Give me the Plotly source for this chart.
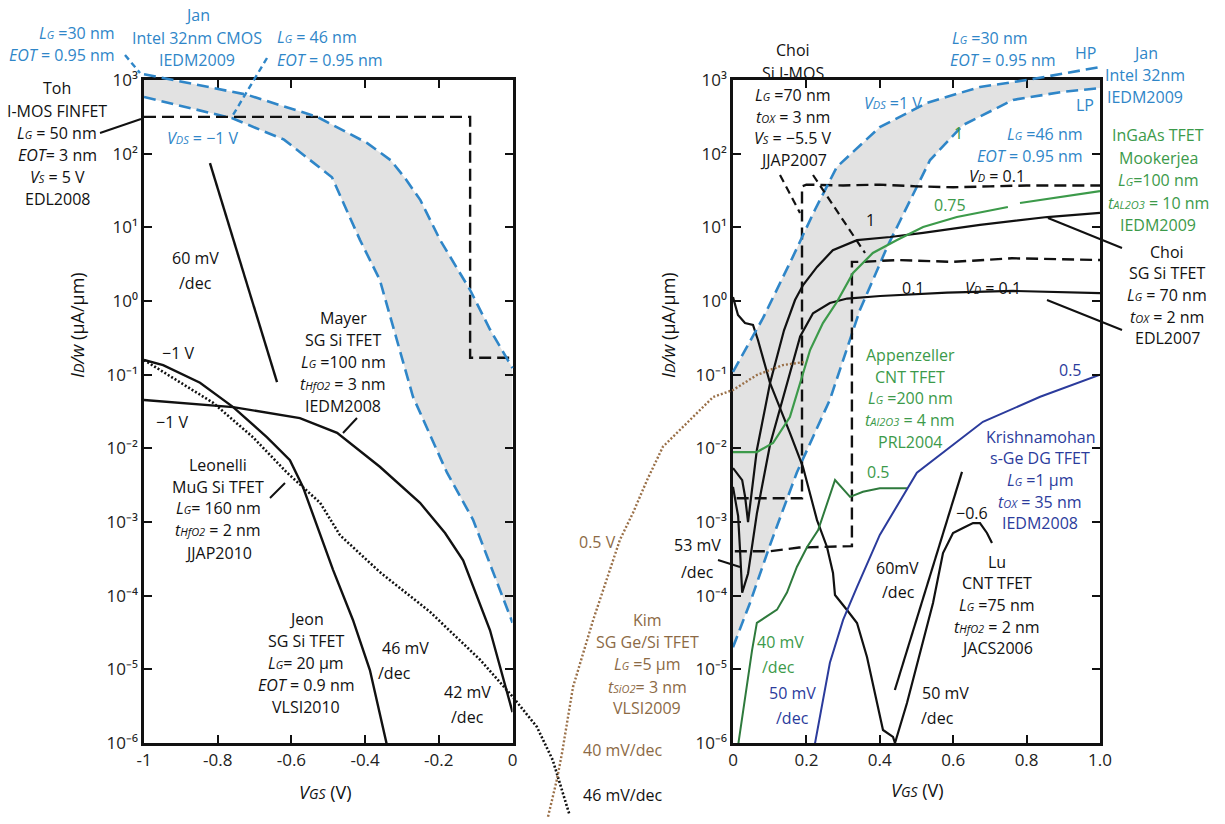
import plotly.graph_objects as go

# ---------------- data ----------------
# Left panel (p-type, VGS < 0)
jan30_v = [-1.0, -0.92, -0.72, -0.53, -0.395, -0.33, -0.292, -0.25, -0.197, -0.115, -0.061, 0.0]
jan30_i = [1200, 1000, 630, 316, 140, 81, 46.8, 23.4, 6.8, 1.41, 0.41, 0.123]
jan46_v = [-1.0, -0.85, -0.76, -0.62, -0.49, -0.414, -0.36, -0.27, -0.178, -0.107, 0.0]
jan46_i = [589, 389, 302, 155, 47.9, 6.76, 1.93, 0.050, 0.0047, 0.00107, 4.3e-5]
toh_v = [-1.0, -0.115, -0.115, 0.0]
toh_i = [316, 316, 0.17, 0.17]
ref60L_v = [-0.821, -0.639]
ref60L_i = [74.6, 0.079]
jeon_v = [-1.0, -0.948, -0.848, -0.758, -0.666, -0.604, -0.569, -0.531, -0.487, -0.433, -0.387, -0.335]
jeon_i = [0.158, 0.135, 0.0776, 0.0363, 0.0141, 0.00692, 0.00302, 0.000912, 0.000224, 4.68e-5, 9.77e-6, 7e-7]
mayer_v = [-1.0, -0.758, -0.577, -0.476, -0.36, -0.251, -0.183, -0.134, -0.061, -0.026, 0.0]
mayer_i = [0.0452, 0.0363, 0.0257, 0.0162, 0.00562, 0.00182, 0.000708, 0.000302, 3.39e-5, 7.94e-6, 2.63e-6]
leon_v = [-1.0, -0.813, -0.704, -0.612, -0.522, -0.468, -0.36, -0.224, -0.088, 0.0, 0.066, 0.109, 0.155]
leon_i = [0.158, 0.0417, 0.0141, 0.00468, 0.00182, 0.000661, 0.000209, 6.03e-5, 1.35e-5, 4.27e-6, 1.66e-6, 5.89e-7, 1.05e-7]

# Right panel (n-type, VGS > 0)
janHP_v = [0.0, 0.082, 0.163, 0.223, 0.283, 0.40, 0.529, 0.673, 0.801, 1.0]
janHP_i = [0.109, 0.589, 3.98, 17.2, 66.1, 229, 490, 804, 1000, 1500]
janLP_v = [0.0, 0.046, 0.101, 0.174, 0.264, 0.346, 0.42, 0.537, 0.627, 0.763, 0.899, 1.0]
janLP_i = [2.0e-5, 7.9e-5, 4.9e-4, 4.7e-3, 0.0457, 0.759, 5.41, 82, 245, 537, 692, 776]
imosA_v = [0.01, 0.188, 0.188, 0.2, 0.3, 0.4, 0.5, 0.6, 0.7, 0.8, 0.9, 1.0]
imosA_i = [2.1e-3, 2.1e-3, 36, 38, 37, 38, 36, 35, 36, 37, 37, 37]
imosB_v = [0.005, 0.1, 0.18, 0.324, 0.324, 0.35, 0.45, 0.6, 0.76, 1.0]
imosB_i = [4.0e-4, 4.0e-4, 4.5e-4, 4.7e-4, 3.4, 3.4, 3.6, 3.4, 3.8, 3.6]
choi1_v = [0.0, 0.014, 0.025, 0.033, 0.041, 0.065, 0.101, 0.139, 0.169, 0.191, 0.229, 0.272, 0.338, 0.428, 0.518, 0.673, 0.856, 1.0]
choi1_i = [5.4e-3, 4.3e-3, 3.7e-3, 2.2e-3, 1.0e-3, 9.5e-3, 0.077, 0.40, 1.03, 1.65, 2.9, 4.9, 6.7, 7.4, 8.4, 10.8, 13.8, 15.7]
choi01_v = [0.0, 0.014, 0.019, 0.025, 0.041, 0.065, 0.101, 0.183, 0.218, 0.264, 0.311, 0.401, 0.583, 0.763, 1.0]
choi01_i = [3.0e-3, 1.2e-3, 4.3e-4, 1.1e-4, 2.0e-4, 1.3e-3, 0.0113, 0.33, 0.68, 0.94, 1.08, 1.17, 1.3, 1.37, 1.28]
lu_v = [0.0, 0.0136, 0.0327, 0.0545, 0.068, 0.1008, 0.1553, 0.1907, 0.2289, 0.2561, 0.2725, 0.2779, 0.3106, 0.3379,
        0.3651, 0.3924, 0.4087, 0.436, 0.4414, 0.4741, 0.5095, 0.545, 0.5722, 0.5995, 0.6267, 0.654, 0.673, 0.692, 0.7057]
lu_i = [1.13, 0.646, 0.502, 0.472, 0.296, 0.0771, 0.0161, 5.58e-3, 1.06e-3, 4.58e-4, 2.03e-4, 1.02e-4, 6.38e-5, 4.26e-5,
        1.47e-5, 3.49e-6, 1.50e-6, 1.21e-6, 1.0e-6, 3.49e-6, 1.67e-5, 7.94e-5, 3.79e-4, 7.10e-4, 8.30e-4, 9.68e-4, 9.68e-4, 7.10e-4, 5.19e-4]
ref60R_v = [0.441, 0.624]
ref60R_i = [5.25e-6, 4.79e-3]
mook_v = [0.0, 0.065, 0.109, 0.155, 0.183, 0.21, 0.245, 0.283, 0.327, 0.381, 0.447, 0.518, 0.61, 0.749, None, 0.782, 0.891, 1.0]
mook_i = [8.9e-3, 8.9e-3, 0.0118, 0.0266, 0.0771, 0.216, 0.502, 0.968, 2.40, 4.49, 6.73, 10.1, 13.8, 18.9, None, 21.4, 25.8, 31.1]
appz_v = [0.012, 0.033, 0.052, 0.065, 0.12, 0.147, 0.174, 0.202, 0.232, 0.278, 0.319, 0.354, 0.40, 0.474]
appz_i = [8e-7, 4.22e-6, 1.82e-5, 4.27e-5, 6.46e-5, 1.10e-4, 2.45e-4, 4.57e-4, 7.76e-4, 3.72e-3, 2.19e-3, 2.57e-3, 2.88e-3, 2.88e-3]
krish_v = [0.22, 0.264, 0.30, 0.338, 0.40, 0.501, 0.681, 0.837, 1.0]
krish_i = [8e-7, 1.23e-5, 4.68e-5, 1.32e-4, 6.67e-4, 4.68e-3, 0.0229, 0.0501, 0.1]
kim_v = [-0.504, -0.48, -0.466, -0.436, -0.381, -0.308, -0.272, -0.234, -0.191, -0.117, -0.054, 0.0, 0.065, 0.136, 0.196]
kim_i = [1e-7, 3.16e-7, 7.24e-7, 5.75e-6, 4.68e-5, 5.75e-4, 1.35e-3, 3.72e-3, 0.0105, 0.0243, 0.0498, 0.0619, 0.0989, 0.135, 0.149]

y_tickvals = [1e-6, 1e-5, 1e-4, 1e-3, 1e-2, 1e-1, 1e0, 1e1, 1e2, 1e3]
y_ticktext = ["10⁻⁶", "10⁻⁵", "10⁻⁴", "10⁻³", "10⁻²", "10⁻¹", "10⁰", "10¹", "10²", "10³"]
xl_tickvals = [-1, -0.8, -0.6, -0.4, -0.2, 0]
xl_ticktext = ["-1", "-0.8", "-0.6", "-0.4", "-0.2", "0"]
xr_tickvals = [0, 0.2, 0.4, 0.6, 0.8, 1.0]
xr_ticktext = ["0", "0.2", "0.4", "0.6", "0.8", "1.0"]

# ---------------- geometry / styles ----------------
W, H = 1225, 824
LX0, LX1 = 144, 512.5
RX0, RX1 = 733, 1100
YT, YB = 80, 743
FONT = "Open Sans"
BLUE = "#2f86c8"
NAVY = "#2b3b9c"
GREEN = "#3c9a4a"
DGREEN = "#2e7a3c"
BROWN = "#8c6a45"
BLACK = "#111111"
GRAY = "rgb(226,226,226)"
DASH = "12px,6px"


def px(x, y):
    return x / W, 1 - y / H


fig = go.Figure()

# left panel
fig.add_trace(go.Scatter(x=jan30_v + jan46_v[::-1], y=jan30_i + jan46_i[::-1], fill="toself",
                         fillcolor=GRAY, line=dict(width=0), mode="lines", xaxis="x", yaxis="y"))
for xv, yv, col, dash, w in [
    (jan46_v, jan46_i, BLUE, DASH, 2.6),
    (toh_v, toh_i, BLACK, DASH, 2.4), (ref60L_v, ref60L_i, BLACK, "solid", 2.4),
    (jeon_v, jeon_i, BLACK, "solid", 2.4), (mayer_v, mayer_i, BLACK, "solid", 2.4)]:
    fig.add_trace(go.Scatter(x=xv, y=yv, mode="lines", line=dict(color=col, dash=dash, width=w),
                             xaxis="x", yaxis="y"))

# right panel
fig.add_trace(go.Scatter(x=janHP_v + janLP_v[::-1], y=janHP_i + janLP_i[::-1], fill="toself",
                         fillcolor=GRAY, line=dict(width=0), mode="lines", xaxis="x2", yaxis="y2"))
for xv, yv, col, dash, w in [
    (janLP_v, janLP_i, BLUE, DASH, 2.6),
    (imosA_v, imosA_i, BLACK, DASH, 2.4), (imosB_v, imosB_i, BLACK, DASH, 2.4),
    (choi1_v, choi1_i, BLACK, "solid", 2.2), (choi01_v, choi01_i, BLACK, "solid", 2.2),
    (lu_v, lu_i, BLACK, "solid", 2.2), (ref60R_v, ref60R_i, BLACK, "solid", 2.2),
    (mook_v, mook_i, GREEN, "solid", 2.2), (appz_v, appz_i, DGREEN, "solid", 2.0),
    (krish_v, krish_i, NAVY, "solid", 2.0)]:
    fig.add_trace(go.Scatter(x=xv, y=yv, mode="lines", line=dict(color=col, dash=dash, width=w),
                             xaxis="x2", yaxis="y2", connectgaps=False))

# curves that run past the frames: full-page overlay axes sharing the panels' scales
fig.add_trace(go.Scatter(x=jan30_v, y=jan30_i, mode="lines", line=dict(color=BLUE, dash=DASH, width=2.6),
                         xaxis="x3", yaxis="y3"))
fig.add_trace(go.Scatter(x=janHP_v, y=janHP_i, mode="lines", line=dict(color=BLUE, dash=DASH, width=2.6),
                         xaxis="x4", yaxis="y3"))
fig.add_trace(go.Scatter(x=leon_v, y=leon_i, mode="lines", line=dict(color=BLACK, dash="2px,2px", width=2.6),
                         xaxis="x3", yaxis="y3"))
fig.add_trace(go.Scatter(x=kim_v, y=kim_i, mode="lines", line=dict(color="#9a7048", dash="2px,2px", width=2.4),
                         xaxis="x4", yaxis="y3"))

axis_common = dict(showline=True, linewidth=2.6, linecolor=BLACK, mirror="ticks", ticks="inside",
                   ticklen=8, tickwidth=2, tickcolor=BLACK, showgrid=False, zeroline=False,
                   automargin=False, tickfont=dict(family=FONT, size=17, color="#222"))
ydom = [1 - YB / H, 1 - YT / H]
lspan = LX1 - LX0
rspan = RX1 - RX0
dec = (YB - YT) / 9.0
hidden = dict(visible=False, automargin=False, showgrid=False, zeroline=False)

fig.update_layout(
    width=W, height=H, margin=dict(l=0, r=0, t=0, b=0, pad=0), showlegend=False,
    paper_bgcolor="white", plot_bgcolor="rgba(0,0,0,0)",
    font=dict(family=FONT, size=16, color=BLACK),
    xaxis=dict(domain=[LX0 / W, LX1 / W], range=[-1, 0], tickvals=xl_tickvals, ticktext=xl_ticktext,
               anchor="y", **axis_common),
    yaxis=dict(domain=ydom, type="log", range=[-6, 3], tickvals=y_tickvals, ticktext=y_ticktext,
               anchor="x", **axis_common),
    xaxis2=dict(domain=[RX0 / W, RX1 / W], range=[0, 1], tickvals=xr_tickvals, ticktext=xr_ticktext,
                anchor="y2", **axis_common),
    yaxis2=dict(domain=ydom, type="log", range=[-6, 3], tickvals=y_tickvals, ticktext=y_ticktext,
                anchor="x2", **axis_common),
    xaxis3=dict(domain=[0, 1], range=[-1 - LX0 / lspan, -1 + (W - LX0) / lspan], anchor="y3", **hidden),
    xaxis4=dict(domain=[0, 1], range=[-RX0 / rspan, (W - RX0) / rspan], anchor="y3", **hidden),
    yaxis3=dict(domain=[0, 1], type="log", range=[-6 - (H - YB) / dec, 3 + YT / dec], anchor="x3", **hidden),
)

# ---------------- text ----------------
def sm(s, size=11):
    return "<span style='font-size:%dpx'>%s</span>" % (size, s)

LG = "<i>L" + sm("G") + "</i>"
EOT = "<i>EOT</i>"
VDS = "<i>V" + sm("DS") + "</i>"
VS = "<i>V" + sm("S") + "</i>"
VD = "<i>V" + sm("D") + "</i>"
TOX = "<i>t" + sm("OX") + "</i>"
THFO2 = "<i>t" + sm("HfO2") + "</i>"
TAL2O3 = "<i>t" + sm("AL2O3") + "</i>"
TAl2O3 = "<i>t" + sm("Al2O3") + "</i>"
TSIO2 = "<i>t" + sm("SiO2") + "</i>"

annos = []


def T(s, x, y, color=BLACK, size=16, xanchor="center", angle=0):
    xp, yp = px(x, y)
    annos.append(dict(text=s, x=xp, y=yp, xref="paper", yref="paper", showarrow=False,
                      xanchor=xanchor, yanchor="middle", textangle=angle,
                      font=dict(family=FONT, size=size, color=color)))


def block(lines, x, ys, color=BLACK):
    for s, y in zip(lines, ys):
        T(s, x, y, color)


# left panel labels
block(["Jan", "Intel 32nm CMOS", "IEDM2009"], 197, [15, 38, 60], BLUE)
T(LG + " =30 nm", 77, 33, BLUE)
T(EOT + " = 0.95 nm", 62, 55, BLUE)
T(LG + " = 46 nm", 317, 37, BLUE)
T(EOT + " = 0.95 nm", 330, 60, BLUE)
T(VDS + " = −1 V", 203, 138, BLUE)
block(["Toh", "I-MOS FINFET", LG + " = 50 nm", EOT + "= 3 nm", VS + " = 5 V", "EDL2008"], 57,
      [88, 111, 133, 155, 177, 199])
T("60 mV", 195, 258)
T("/dec", 195, 283)
T("−1 V", 178, 353)
T("−1 V", 172, 422)
block(["Mayer", "SG Si TFET", LG + " =100 nm", THFO2 + " = 3 nm", "IEDM2008"], 343, [318, 340, 362, 384, 406])
block(["Leonelli", "MuG Si TFET", LG + "= 160 nm", THFO2 + " = 2 nm", "JJAP2010"], 218, [465, 487, 508, 530, 553])
block(["Jeon", "SG Si TFET", LG + "= 20 µm", EOT + " = 0.9 nm", "VLSI2010"], 306, [619, 641, 663, 685, 707])
T("46 mV", 405, 648)
T("/dec", 394, 673)
T("42 mV", 468, 692)
T("/dec", 468, 717)
T("0.5 V", 597, 542, BROWN)
block(["Kim", "SG Ge/Si TFET", LG + " =5 µm", TSIO2 + "= 3 nm", "VLSI2009"], 647, [620, 642, 664, 687, 708], BROWN)
T("40 mV/dec", 622, 750, BROWN)
T("46 mV/dec", 622, 795)

# right panel labels
block(["Choi", "Si I-MOS", LG + " =70 nm", TOX + " = 3 nm", VS + " = −5.5 V", "JJAP2007"], 793,
      [50, 73, 95, 117, 138, 160])
T(LG + " =30 nm", 990, 38, BLUE)
T(EOT + " = 0.95 nm", 1003, 60, BLUE)
T("HP", 1085, 53, BLUE)
block(["Jan", "Intel 32nm", "IEDM2009"], 1145, [53, 75, 97], BLUE)
T("LP", 1085, 105, BLUE)
T(VDS + " =1 V", 893, 103, BLUE)
T("1", 959, 133, GREEN)
T(LG + " =46 nm", 1045, 134, BLUE)
T(EOT + " = 0.95 nm", 1030, 156, BLUE)
T(VD + " = 0.1", 997, 176)
T("0.75", 950, 205, GREEN)
T("1", 870, 220)
block(["InGaAs TFET", "Mookerjea", LG + "=100 nm", TAL2O3 + " = 10 nm", "IEDM2009"], 1158,
      [135, 158, 180, 203, 225], GREEN)
block(["Choi", "SG Si TFET", LG + " = 70 nm", TOX + " = 2 nm", "EDL2007"], 1167, [252, 273, 295, 317, 338])
T("0.1", 913, 288)
T(VD + " = 0.1", 993, 288)
block(["Appenzeller", "CNT TFET", LG + " =200 nm", TAl2O3 + " = 4 nm", "PRL2004"], 910,
      [355, 377, 398, 420, 442], GREEN)
T("0.5", 878, 472, GREEN)
T("0.5", 1070, 370, NAVY)
block(["Krishnamohan", "s-Ge DG TFET", LG + " =1 µm", TOX + " = 35 nm", "IEDM2008"], 1040,
      [437, 458, 480, 502, 523], NAVY)
T("−0.6", 972, 513)
block(["Lu", "CNT TFET", LG + " =75 nm", THFO2 + " = 2 nm", "JACS2006"], 997, [562, 583, 605, 627, 648])
T("60mV", 897, 568)
T("/dec", 898, 592)
T("50 mV", 945, 693)
T("/dec", 937, 718)
T("53 mV", 697, 545)
T("/dec", 697, 572)
T("40 mV", 780, 642, GREEN)
T("/dec", 778, 667, GREEN)
T("50 mV", 792, 693, NAVY)
T("/dec", 792, 718, NAVY)

# axis titles
YTITLE = "<i>I" + sm("D", 14) + "/w</i> (µA/µm)"
XTITLE = "<i>V" + sm("GS", 14) + "</i> (V)"
T(YTITLE, 77, 325, size=18, angle=-90)
T(YTITLE, 668, 325, size=18, angle=-90)
T(XTITLE, 325, 792, size=18)
T(XTITLE, 917, 790, size=18)

# leader lines
shapes = []


def seg(x0, y0, x1, y1, color=BLACK, dash="solid", width=2):
    a, b = px(x0, y0)
    c, d = px(x1, y1)
    shapes.append(dict(type="line", xref="paper", yref="paper", x0=a, y0=b, x1=c, y1=d,
                       line=dict(color=color, dash=dash, width=width)))


seg(125, 55, 140, 73, BLUE, "6px,4px", 2.4)
seg(267, 58, 233, 115, BLUE, "6px,4px", 2.4)
seg(100, 133, 141, 119)
seg(357, 418, 343, 433)
seg(270, 498, 285, 483)
seg(1048, 218, 1122, 248)
seg(1047, 300, 1122, 330)
seg(718, 560, 740, 567)
seg(780, 175, 800, 213, BLACK, "8px,5px", 2.2)
seg(813, 175, 865, 253, BLACK, "8px,5px", 2.2)

fig.update_layout(annotations=annos, shapes=shapes)
fig.write_html("out.html", config={"displayModeBar": False})
